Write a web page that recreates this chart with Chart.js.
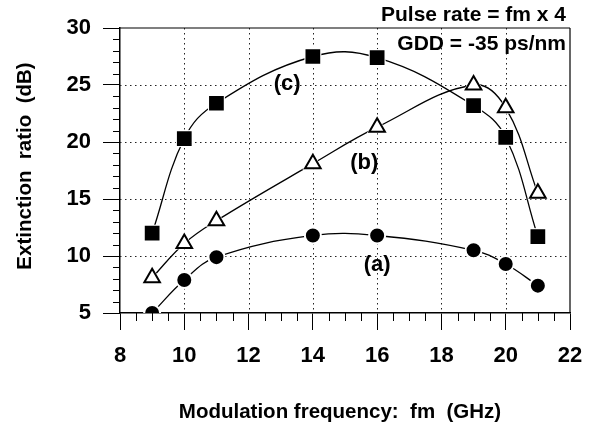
<!DOCTYPE html>
<html>
<head>
<meta charset="utf-8">
<script src="https://cdn.jsdelivr.net/npm/chart.js@4.4.1/dist/chart.umd.min.js"></script>
<style>
  html, body { margin: 0; padding: 0; background: #fff; }
  #wrap { width: 596px; height: 424px; }
</style>
</head>
<body>
<div id="wrap"><canvas id="chart"></canvas></div>
<script>
// ── Data ────────────────────────────────────────────
const freqs = [9, 10, 11, 14, 16, 19, 20, 21];
const seriesA = [5.0, 7.9, 9.9, 11.8, 11.8, 10.5, 9.3, 7.4];     // (a) filled circles
const seriesB = [8.1, 11.1, 13.1, 18.1, 21.3, 25.0, 23.0, 15.5]; // (b) open triangles
const seriesC = [12.0, 20.3, 23.4, 27.5, 27.4, 23.2, 20.4, 11.7]; // (c) filled squares
const xTicks = [8, 10, 12, 14, 16, 18, 20, 22];
const yTicks = [5, 10, 15, 20, 25, 30];
const curveLabels = ['(a)', '(b)', '(c)'];

const FONT = '"Liberation Sans", Arial, Helvetica, sans-serif';
const INK = '#000';

const pts = vals => freqs.map((f, i) => ({ x: f, y: vals[i] }));

function series(vals, style, radius, fill) {
  return [
    { // fitted curve
      data: pts(vals), showLine: true, borderColor: INK, borderWidth: 1.3,
      tension: 0.4, pointRadius: 0, order: 3, clip: 0,
    },
    { // white halo that breaks the curve around each marker
      data: pts(vals), showLine: false, pointStyle: style, pointRadius: radius + 3,
      pointBackgroundColor: '#fff', pointBorderColor: '#fff', pointBorderWidth: 0,
      order: 2, clip: 0,
    },
    { // marker
      data: pts(vals), showLine: false, pointStyle: style, pointRadius: radius,
      pointBackgroundColor: fill, pointBorderColor: INK, pointBorderWidth: 2,
      order: 1, clip: 0,
    },
  ];
}

// ── Dotted grid (under the data) ────────────────────
const dottedGrid = {
  id: 'dottedGrid',
  beforeDatasetsDraw(chart) {
    const { ctx, chartArea: a, scales: { x, y } } = chart;
    ctx.save();
    ctx.strokeStyle = '#222';
    ctx.lineWidth = 1;
    ctx.setLineDash([1.5, 3.5]);
    ctx.beginPath();
    xTicks.slice(1, -1).forEach(v => {
      const px = Math.round(x.getPixelForValue(v)) + 0.5;
      ctx.moveTo(px, a.top); ctx.lineTo(px, a.bottom);
    });
    yTicks.slice(1, -1).forEach(v => {
      const py = Math.round(y.getPixelForValue(v)) + 0.5;
      ctx.moveTo(a.left, py); ctx.lineTo(a.right, py);
    });
    ctx.stroke();
    ctx.restore();
  },
};

// ── Frame, minor ticks and text ─────────────────────
const decor = {
  id: 'decor',
  afterDraw(chart) {
    const { ctx, chartArea: a, scales: { x, y } } = chart;
    ctx.save();
    ctx.strokeStyle = INK;
    ctx.lineWidth = 1.2;
    ctx.beginPath();
    ctx.moveTo(a.left, a.top); ctx.lineTo(a.right, a.top);
    ctx.moveTo(a.right, a.top); ctx.lineTo(a.right, a.bottom);
    ctx.stroke();

    ctx.lineWidth = 1;
    ctx.beginPath();
    for (let v = 6; v < 30; v++) {
      if (v % 5 === 0) continue;
      const py = Math.round(y.getPixelForValue(v)) + 0.5;
      ctx.moveTo(a.left - 7, py); ctx.lineTo(a.left, py);
    }
    for (let v = 8.5; v < 22; v += 0.5) {
      if (v % 2 === 0) continue;
      const px = Math.round(x.getPixelForValue(v)) + 0.5;
      ctx.moveTo(px, a.bottom); ctx.lineTo(px, a.bottom + 8);
    }
    ctx.stroke();

    ctx.fillStyle = INK;
    ctx.textBaseline = 'middle';
    ctx.font = `bold 21px ${FONT}`;
    ctx.textAlign = 'right';
    ctx.fillText('Pulse rate = fm x 4', 566, 15);
    ctx.fillText('GDD = -35 ps/nm', 566, 44);

    // axis titles
    ctx.textAlign = 'center';
    ctx.font = `bold 20.5px ${FONT}`;
    ctx.fillText('Modulation frequency:  fm  (GHz)', 340, 412);
    ctx.save();
    ctx.translate(25, 166);
    ctx.rotate(-Math.PI / 2);
    ctx.fillText('Extinction  ratio  (dB)', 0, 0);
    ctx.restore();

    ctx.font = `bold 22px ${FONT}`;
    const spots = [[16.0, 9.2], [15.6, 18.2], [13.2, 25.1]];
    curveLabels.forEach((t, i) => {
      ctx.fillText(t, x.getPixelForValue(spots[i][0]), y.getPixelForValue(spots[i][1]));
    });
    ctx.restore();
  },
};

const tickFont = { family: FONT, size: 22, weight: 'bold' };

new Chart(document.getElementById('chart'), {
  type: 'scatter',
  data: {
    datasets: [
      ...series(seriesA, 'circle', 6, INK),
      ...series(seriesB, 'triangle', 9, '#fff'),
      ...series(seriesC, 'rect', 9, INK),
    ],
  },
  options: {
    responsive: true,
    maintainAspectRatio: false,
    animation: false,
    layout: { padding: { top: 28, right: 26, left: 0, bottom: 0 } },
    plugins: { legend: { display: false }, tooltip: { enabled: false } },
    scales: {
      x: {
        type: 'linear', min: 8, max: 22,
        afterBuildTicks: s => { s.ticks = xTicks.map(v => ({ value: v })); },
        afterFit: s => { s.height = 111; },
        ticks: { color: INK, padding: 13, font: tickFont },
        grid: { drawOnChartArea: false, tickColor: INK, tickLength: 17, lineWidth: 1 },
        border: { color: INK, width: 1.5 },
      },
      y: {
        type: 'linear', min: 5, max: 30,
        afterBuildTicks: s => { s.ticks = yTicks.map(v => ({ value: v })); },
        afterFit: s => { s.width = 120; },
        ticks: { color: INK, padding: 12, font: tickFont },
        grid: { drawOnChartArea: false, tickColor: INK, tickLength: 17, lineWidth: 1 },
        border: { color: INK, width: 1.5 },
      },
    },
  },
  plugins: [dottedGrid, decor],
});
</script>
</body>
</html>
